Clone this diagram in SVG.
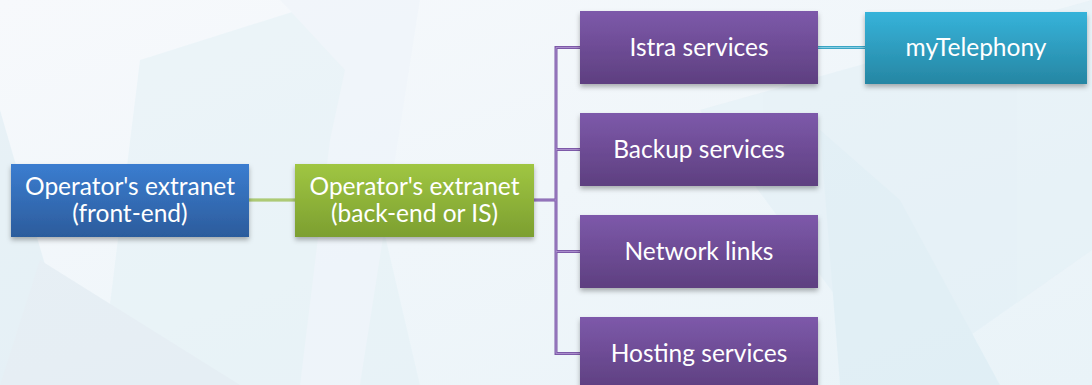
<svg xmlns="http://www.w3.org/2000/svg" width="1092" height="385" viewBox="0 0 1092 385">
<defs>
<linearGradient id="bg" x1="0" y1="0" x2="1" y2="1"><stop offset="0" stop-color="#f7f9fc"/><stop offset="1" stop-color="#e9f3f8"/></linearGradient>
<linearGradient id="gBlue" x1="0" y1="0" x2="0" y2="1"><stop offset="0" stop-color="#3b7dd0"/><stop offset="1" stop-color="#2c5c9c"/></linearGradient>
<linearGradient id="gGreen" x1="0" y1="0" x2="0" y2="1"><stop offset="0" stop-color="#a0c642"/><stop offset="1" stop-color="#7c9f30"/></linearGradient>
<linearGradient id="gPurple" x1="0" y1="0" x2="0" y2="1"><stop offset="0" stop-color="#7d59aa"/><stop offset="1" stop-color="#5e3f80"/></linearGradient>
<linearGradient id="gTeal" x1="0" y1="0" x2="0" y2="1"><stop offset="0" stop-color="#36b3da"/><stop offset="1" stop-color="#2686a3"/></linearGradient>
<filter id="sh" x="-10%" y="-10%" width="120%" height="140%"><feDropShadow dx="0" dy="3" stdDeviation="2.5" flood-color="#000" flood-opacity="0.3"/></filter>
</defs>
<style>
.box{filter:url(#sh)}
.t{font-family:Lato,"Open Sans","Liberation Sans",sans-serif;font-size:24.5px;fill:#fff;text-anchor:middle}
.cp{fill:none;stroke:#7d5aa8;stroke-width:3}
.cpi{fill:none;stroke:#a98ccc;stroke-width:1}
</style>
<rect width="1092" height="385" fill="url(#bg)"/>
<g opacity="0.5">
<polygon points="100,385 140,60 330,0 420,385" fill="#e3f1f6"/>
<polygon points="280,0 345,70 330,140 300,385 360,385 420,0" fill="#eef4fa"/>
<polygon points="0,110 80,385 0,385" fill="#dcecf3"/>
<polygon points="700,110 1092,0 1092,250 900,385" fill="#e1eff6"/>
<polygon points="820,130 900,200 1000,385 840,385" fill="#d8ebf3"/>
<polygon points="40,260 240,385 0,385" fill="#dde8f0"/>
</g>
<g id="connectors">
<line x1="249" y1="200" x2="295" y2="200" stroke="#9cbf5a" stroke-width="3"/>
<line x1="249" y1="200" x2="295" y2="200" stroke="#bfd68f" stroke-width="1"/>
<path class="cp" d="M534 200H556M580 47.5H556V353.5H580M556 149.5H580M556 251.5H580"/>
<path class="cpi" d="M534 200H556M580 47.5H556V353.5H580M556 149.5H580M556 251.5H580"/>
<line x1="818" y1="47.5" x2="865" y2="47.5" stroke="#3aa5c5" stroke-width="3"/>
<line x1="818" y1="47.5" x2="865" y2="47.5" stroke="#86cde2" stroke-width="1"/>
</g>
<g id="front-end"><rect class="box" x="11" y="164" width="238" height="73" fill="url(#gBlue)"/><text class="t" x="130" y="195">Operator's extranet</text><text class="t" x="130" y="222">(front-end)</text></g>
<g id="back-end"><rect class="box" x="295" y="164" width="239" height="73" fill="url(#gGreen)"/><text class="t" x="414.5" y="195">Operator's extranet</text><text class="t" x="414.5" y="222">(back-end or IS)</text></g>
<g id="istra"><rect class="box" x="580" y="11" width="238" height="73" fill="url(#gPurple)"/><text class="t" x="699" y="56">Istra services</text></g>
<g id="backup"><rect class="box" x="580" y="113" width="238" height="73" fill="url(#gPurple)"/><text class="t" x="699" y="158">Backup services</text></g>
<g id="network"><rect class="box" x="580" y="215" width="238" height="73" fill="url(#gPurple)"/><text class="t" x="699" y="260">Network links</text></g>
<g id="hosting"><rect class="box" x="580" y="317" width="238" height="73" fill="url(#gPurple)"/><text class="t" x="699" y="362">Hosting services</text></g>
<g id="mytelephony"><rect class="box" x="865" y="12" width="222" height="72" fill="url(#gTeal)"/><text class="t" x="976" y="56">myTelephony</text></g>
</svg>
